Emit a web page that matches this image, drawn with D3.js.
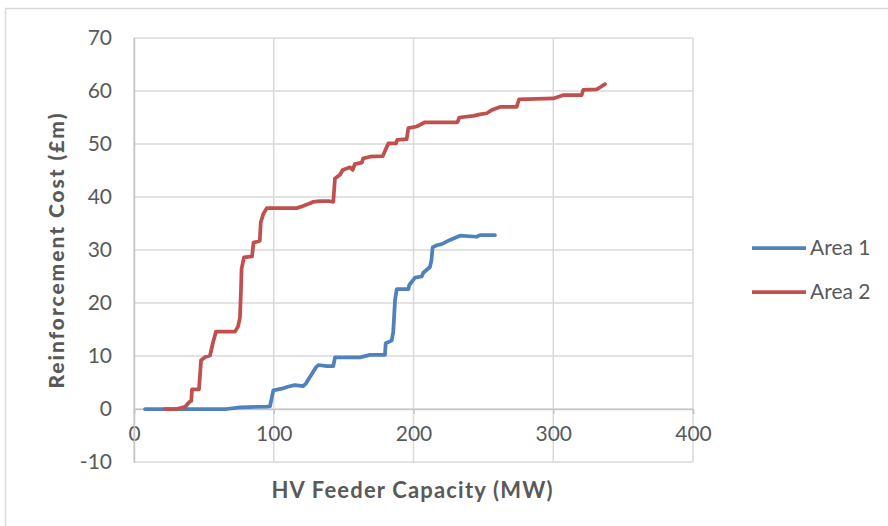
<!DOCTYPE html>
<html>
<head>
<meta charset="utf-8">
<script src="https://cdn.jsdelivr.net/npm/d3@7"></script>
<style>
  body { margin: 0; background: #fff; }
  text { font-family: Lato, "Open Sans", sans-serif; fill: #595959; }
</style>
</head>
<body>
<div id="chart"></div>
<script>
// Data (HV Feeder Capacity MW, Reinforcement Cost £m)
const area1 = [
    [7.9, 0], [66.3, 0], [75.8, 0.3], [95, 0.45], [97.3, 0.5], [99.7, 3.5], [106.8, 3.9],
    [110, 4.2], [115, 4.5], [121, 4.3], [123, 4.8], [126, 6.1], [130, 7.8], [132, 8.3],
    [138, 8.1], [142.6, 8.1], [143.8, 9.75], [161.7, 9.75], [168.9, 10.2], [179.6, 10.2],
    [180.1, 12.4], [184.4, 12.9], [185.5, 14.5], [186.8, 20.6], [188, 22.6], [196.3, 22.6],
    [197, 23.4], [201.1, 24.8], [205.9, 25.0], [207, 25.7], [211.8, 26.8], [212.8, 28],
    [213.7, 30.5], [216.6, 30.9], [220.2, 31.1], [226.1, 31.9], [233.3, 32.7], [245.2, 32.5],
    [247.6, 32.8], [258.3, 32.8]
];
const area2 = [
    [22, 0], [30.5, 0], [36.5, 0.4], [40, 1.4], [41, 1.5], [41.5, 3.7], [46.5, 3.7], [48, 9.2],
    [51, 9.8], [54.4, 10.1], [56.5, 12.5], [58.7, 14.6], [72.3, 14.6], [74.5, 15.6], [75.8, 17.2],
    [76.5, 22], [77, 26.5], [78.7, 28.6], [84.5, 28.8], [85.5, 31.4], [90, 31.7], [90.7, 35.2],
    [92.5, 36.8], [95, 37.9], [116.4, 37.9], [121, 38.3], [126, 38.8], [128, 39.1], [133, 39.2],
    [140, 39.2], [142.6, 39.1], [143.8, 43.5], [147.4, 44.2], [149.3, 45.1], [154.6, 45.6],
    [156.5, 45.1], [158, 46.2], [163, 46.5], [164, 47.3], [168.9, 47.6], [178, 47.7],
    [179.6, 48.7], [182, 50.1], [187.5, 50.1], [188.4, 50.8], [195.1, 50.9], [196.3, 53.0],
    [202.3, 53.3], [208.2, 54.1], [231.4, 54.1], [232.8, 55.0], [242.8, 55.3], [247.6, 55.6],
    [252.4, 55.8], [256, 56.4], [261.9, 57.0], [273.8, 57.0], [275.5, 58.4], [300, 58.6],
    [307, 59.2], [320.3, 59.2], [321.5, 60.2], [331, 60.3], [333.5, 60.7], [337, 61.3]
];
const seriesNames = ["Area 1", "Area 2"];
const seriesColors = ["#4f81bd", "#c0504d"];
const xTicks = [0, 100, 200, 300, 400];
const yTicks = [-10, 0, 10, 20, 30, 40, 50, 60, 70];

const width = 888;
const height = 526;
const svg = d3.select("#chart").append("svg")
    .attr("width", width).attr("height", height);

// outer chart border
svg.append("rect")
    .attr("x", 5.5).attr("y", 8.5)
    .attr("width", 900).attr("height", 600)
    .attr("fill", "none").attr("stroke", "#d9d9d9").attr("stroke-width", 1.5);

const x = d3.scaleLinear().domain([0, 400]).range([134, 693]);
const y = d3.scaleLinear().domain([-10, 70]).range([462, 38]);

// gridlines
svg.append("g")
    .selectAll("line")
    .data(yTicks)
    .join("line")
    .attr("x1", x(0)).attr("x2", x(400))
    .attr("y1", d => y(d)).attr("y2", d => y(d))
    .attr("stroke", "#d9d9d9").attr("stroke-width", 1.5);

svg.append("g")
    .selectAll("line")
    .data(xTicks)
    .join("line")
    .attr("x1", d => x(d)).attr("x2", d => x(d))
    .attr("y1", y(-10)).attr("y2", y(70))
    .attr("stroke", "#d9d9d9").attr("stroke-width", 1.5);

// axes (x axis crosses at y = 0)
const xAxis = svg.append("g")
    .attr("transform", `translate(0,${y(0)})`)
    .call(d3.axisBottom(x).tickValues(xTicks).tickSize(5).tickPadding(12)
        .tickFormat(d => String(d)));
xAxis.select(".domain").attr("stroke", "#c6c6c6").attr("stroke-width", 1.5);
xAxis.selectAll(".tick line").attr("stroke", "#c6c6c6").attr("stroke-width", 1.5);
xAxis.selectAll("text")
    .style("font-size", "21px").attr("fill", "#595959")
    .style("font-family", "Lato, sans-serif");

const yAxis = svg.append("g")
    .attr("transform", `translate(${x(0)},0)`)
    .call(d3.axisLeft(y).tickValues(yTicks).tickSize(0).tickPadding(22)
        .tickFormat(d => String(d)));
yAxis.select(".domain").attr("stroke", "#c6c6c6").attr("stroke-width", 1.5);
yAxis.selectAll("text")
    .style("font-size", "21px").attr("fill", "#595959")
    .style("font-family", "Lato, sans-serif");

// series lines
const line = d3.line()
    .x(d => x(d[0]))
    .y(d => y(d[1]));

[area1, area2].forEach((data, i) => {
    svg.append("path")
        .datum(data)
        .attr("d", line)
        .attr("fill", "none")
        .attr("stroke", seriesColors[i])
        .attr("stroke-width", 3.75)
        .attr("stroke-linejoin", "round")
        .attr("stroke-linecap", "round");
});

// axis titles
svg.append("text")
    .attr("x", 412).attr("y", 498)
    .attr("text-anchor", "middle")
    .attr("textLength", 281)
    .style("font-size", "22px").style("font-weight", "bold")
    .text("HV Feeder Capacity (MW)");

svg.append("text")
    .attr("transform", "translate(64,251) rotate(-90)")
    .attr("text-anchor", "middle")
    .attr("textLength", 275)
    .style("font-size", "21px").style("font-weight", "900")
    .text("Reinforcement Cost (£m)");

// legend
const legend = svg.append("g")
    .selectAll("g")
    .data(seriesNames)
    .join("g")
    .attr("transform", (d, i) => `translate(752,${248 + i * 44})`);

legend.append("line")
    .attr("x1", 0).attr("x2", 54)
    .attr("stroke", (d, i) => seriesColors[i])
    .attr("stroke-width", 3.75);

legend.append("text")
    .attr("x", 58).attr("dy", "0.35em")
    .style("font-size", "21px")
    .text(d => d);
</script>
</body>
</html>
